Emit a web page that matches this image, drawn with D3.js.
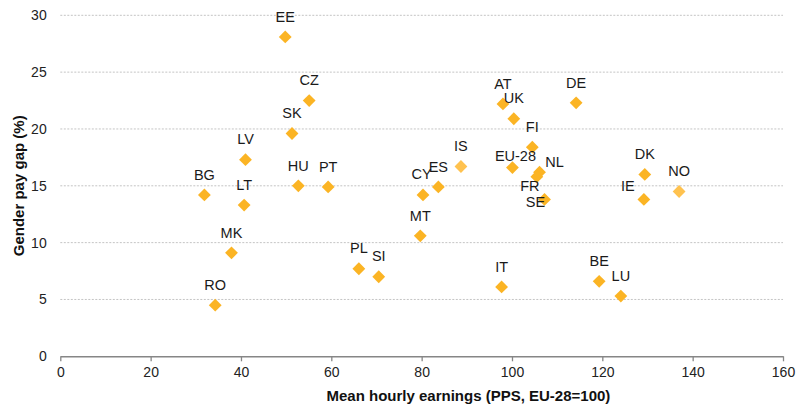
<!DOCTYPE html>
<html>
<head>
<meta charset="utf-8">
<script src="https://cdn.jsdelivr.net/npm/d3@7/dist/d3.min.js"></script>
<style>
  body { margin: 0; background: #fff; }
  svg { font-family: "Liberation Sans", Arial, sans-serif; }
</style>
</head>
<body>
<svg id="chart" width="798" height="412"></svg>
<script>
// ====================================
// Données
// ====================================
const countries = ["BG", "LV", "LT", "MK", "RO", "EE", "CZ", "SK", "HU", "PT",
                   "CY", "ES", "IS", "AT", "UK", "EU-28", "FI", "NL", "FR", "SE",
                   "DE", "DK", "IE", "NO", "MT", "PL", "SI", "IT", "BE", "LU"];
const earnings = [31.9, 41.0, 40.7, 37.9, 34.3, 49.8, 55.1, 51.3, 52.7, 59.3,
                  80.3, 83.7, 88.7, 98.0, 100.4, 100.1, 104.5, 106.1, 105.5, 107.2,
                  114.2, 129.4, 129.2, 137.0, 79.7, 66.1, 70.5, 97.7, 119.3, 124.1];
const payGap = [14.2, 17.3, 13.3, 9.1, 4.5, 28.1, 22.5, 19.6, 15.0, 14.9,
                14.2, 14.9, 16.7, 22.2, 20.9, 16.6, 18.4, 16.2, 15.8, 13.8,
                22.3, 16.0, 13.8, 14.5, 10.6, 7.7, 7.0, 6.1, 6.6, 5.3];
// pays hors UE (couleur plus claire)
const nonEU = ["IS", "NO"];

const xTicks = [0, 20, 40, 60, 80, 100, 120, 140, 160];
const yTicks = [0, 5, 10, 15, 20, 25, 30];

// décalages des étiquettes (centre du texte par rapport au point)
const labelOffsets = {
    "EU-28": [3, -11.5],
    "NL": [15, -10],
    "FR": [-7, 9],
    "SE": [-9, 2.5],
    "IE": [-16, -14],
    "CY": [-1.5, -21]
};

// ====================================
// Dessin
// ====================================
const svg = d3.select("#chart");
const x = d3.scaleLinear().domain([0, 160]).range([60.3, 783]);
const y = d3.scaleLinear().domain([0, 30]).range([356.3, 15.3]);

// grille horizontale
svg.append("g")
    .selectAll("line")
    .data(yTicks.filter(t => t > 0))
    .join("line")
    .attr("x1", x(0))
    .attr("x2", x(160))
    .attr("y1", d => y(d))
    .attr("y2", d => y(d))
    .style("stroke", "#c4c4c4")
    .style("stroke-width", 1)
    .style("stroke-dasharray", "2,1.5");

// axe X
const xAxis = svg.append("g")
    .attr("transform", `translate(0,${y(0)})`)
    .call(d3.axisBottom(x).tickValues(xTicks).tickSize(5).tickSizeOuter(0).tickPadding(6));
xAxis.select(".domain").style("stroke", "#868686").style("stroke-width", 1.5);
xAxis.selectAll(".tick line").style("stroke", "#868686").style("stroke-width", 1.3);
xAxis.selectAll("text")
    .style("font-size", "14px")
    .style("fill", "#222")
    .style("font-family", "Liberation Sans, Arial, sans-serif");

// axe Y (libellés seulement)
svg.append("g")
    .selectAll("text")
    .data(yTicks)
    .join("text")
    .attr("x", 46.7)
    .attr("y", d => y(d) + 5)
    .attr("text-anchor", "end")
    .style("font-size", "14px")
    .style("fill", "#222")
    .text(d => d);

// titres des axes
svg.append("text")
    .attr("x", 468.4)
    .attr("y", 401)
    .attr("text-anchor", "middle")
    .style("font-size", "15px")
    .style("font-weight", "bold")
    .style("fill", "#111")
    .text("Mean hourly earnings (PPS, EU-28=100)");

svg.append("text")
    .attr("transform", `translate(24.3,${(y(0) + y(30)) / 2}) rotate(-90)`)
    .attr("text-anchor", "middle")
    .style("font-size", "15px")
    .style("font-weight", "bold")
    .style("fill", "#111")
    .text("Gender pay gap (%)");

// points
const points = countries.map((c, i) => ({ name: c, x: earnings[i], y: payGap[i] }));
const diamond = d3.symbol().type(d3.symbolSquare).size(82);

svg.append("g")
    .selectAll("path")
    .data(points)
    .join("path")
    .attr("d", diamond)
    .attr("transform", d => `translate(${x(d.x)},${y(d.y)}) rotate(45)`)
    .style("fill", d => nonEU.includes(d.name) ? "#ffc24f" : "#fbb424");

// étiquettes
svg.append("g")
    .selectAll("text")
    .data(points)
    .join("text")
    .attr("x", d => x(d.x) + (labelOffsets[d.name] || [0, -20.5])[0])
    .attr("y", d => y(d.y) + (labelOffsets[d.name] || [0, -20.5])[1] + 5.2)
    .attr("text-anchor", "middle")
    .style("font-size", "14.5px")
    .style("fill", "#1a1a1a")
    .text(d => d.name);
</script>
</body>
</html>
